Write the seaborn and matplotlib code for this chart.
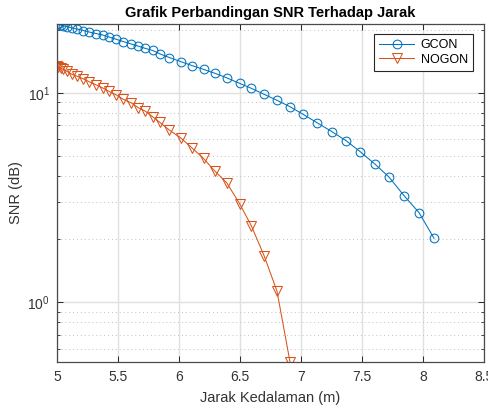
import matplotlib
matplotlib.use("Agg")
from matplotlib import pyplot as plt
from matplotlib.ticker import LogLocator, NullFormatter
import seaborn as sns

# jarak kedalaman (m), dipakai bersama oleh kedua seri
jarak = [5.000, 5.012, 5.029, 5.049, 5.082, 5.123, 5.168, 5.216, 5.266, 5.320,
         5.373, 5.426, 5.484, 5.543, 5.607, 5.668, 5.725, 5.783, 5.844, 5.922,
         6.014, 6.107, 6.201, 6.295, 6.391, 6.496, 6.594, 6.697, 6.803, 6.910,
         7.016, 7.131, 7.254, 7.369, 7.484, 7.607, 7.721, 7.844, 7.967, 8.090]

snr_gcon = [21.31, 21.22, 21.08, 20.92, 20.69, 20.42, 20.13, 19.83, 19.50, 19.19,
            18.89, 18.48, 18.02, 17.57, 17.11, 16.69, 16.29, 15.94, 15.34, 14.73,
            14.09, 13.49, 12.94, 12.39, 11.79, 11.10, 10.50, 9.84, 9.21, 8.58,
            7.90, 7.20, 6.52, 5.91, 5.24, 4.56, 3.96, 3.23, 2.68, 2.02]

snr_nogon = [13.37, 13.27, 13.13, 12.94, 12.66, 12.25, 11.98, 11.66, 11.28, 10.92,
             10.56, 10.16, 9.78, 9.31, 8.96, 8.48, 8.16, 7.69, 7.22, 6.63,
             6.09, 5.45, 4.86, 4.22, 3.72, 2.96, 2.31, 1.67, 1.13, 0.518]

x_ticks = [5, 5.5, 6, 6.5, 7, 7.5, 8, 8.5]
x_tick_labels = ['5', '5.5', '6', '6.5', '7', '7.5', '8', '8.5']

BIRU = '#0072BD'
ORANYE = '#D95319'
ABU = '#262626'

plt.rcParams['font.family'] = ['Liberation Sans', 'DejaVu Sans']
plt.rcParams['mathtext.fontset'] = 'custom'
plt.rcParams['mathtext.rm'] = 'Liberation Sans'
plt.rcParams['mathtext.default'] = 'regular'

fig = plt.figure(figsize=(4.89, 4.08), dpi=100)
ax = fig.add_axes([57 / 489, 1 - 362 / 408, 427 / 489, 338 / 408])

sns.lineplot(x=jarak, y=snr_gcon, ax=ax, color=BIRU, linewidth=0.75,
             marker='o', markersize=6.3, markerfacecolor='none',
             markeredgecolor=BIRU, markeredgewidth=0.75, label='GCON',
             sort=False, estimator=None)
sns.lineplot(x=jarak[:len(snr_nogon)], y=snr_nogon, ax=ax, color=ORANYE,
             linewidth=0.75, marker='v', markersize=7, markerfacecolor='none',
             markeredgecolor=ORANYE, markeredgewidth=0.75, label='NOGON',
             sort=False, estimator=None)

ax.set_yscale('log')
ax.set_xlim(5, 8.5)
ax.set_ylim(0.518, 21.31)
ax.set_xticks(x_ticks)
ax.set_xticklabels(x_tick_labels)
ax.yaxis.set_minor_locator(LogLocator(base=10, subs=range(2, 10)))
ax.yaxis.set_minor_formatter(NullFormatter())

# grid ala MATLAB
ax.grid(True, which='major', axis='both', color='#e0e0e0', linewidth=1.0, linestyle='-')
ax.grid(True, which='minor', axis='y', color='#c0c0c0', linewidth=0.7, linestyle=(0, (1, 3)))
ax.set_axisbelow(True)

ax.tick_params(which='both', direction='in', top=True, right=True,
               colors=ABU, labelcolor='#333333', labelsize=10)
ax.tick_params(which='major', length=4, width=0.7, pad=5)
ax.tick_params(axis='x', which='major', pad=6)
ax.tick_params(which='minor', length=2.5, width=0.6)
for sp in ax.spines.values():
    sp.set_color('#4a4a4a')
    sp.set_linewidth(0.9)

ax.set_title('Grafik Perbandingan SNR Terhadap Jarak', fontsize=10.5,
             fontweight='bold', color='black', pad=5)
ax.set_xlabel('Jarak Kedalaman (m)', fontsize=10.5, color='#333333', labelpad=5)
ax.set_ylabel('SNR (dB)', fontsize=10.5, color='#333333', labelpad=3)

leg = ax.legend(loc='upper right', bbox_to_anchor=(0.9735, 0.9695), borderaxespad=0,
                fontsize=9, frameon=True, fancybox=False, framealpha=1,
                edgecolor='#262626', handlelength=2.8, borderpad=0.4,
                labelspacing=0.2, handletextpad=0.5)
leg.get_frame().set_linewidth(0.8)

fig.savefig('out.png', dpi=100)
